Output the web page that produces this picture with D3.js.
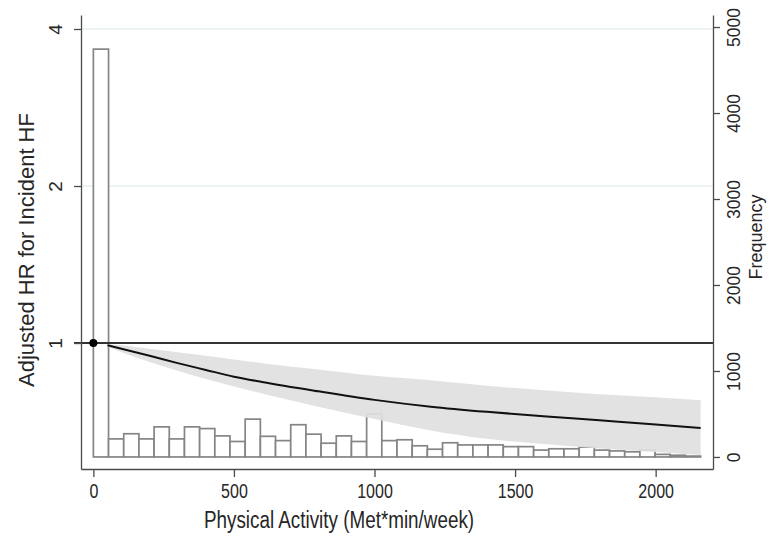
<!DOCTYPE html>
<html>
<head>
<meta charset="utf-8">
<script src="https://cdn.jsdelivr.net/npm/d3@7/dist/d3.min.js"></script>
<style>
  html, body { margin: 0; padding: 0; background: #fff; }
  svg { display: block; font-family: "Liberation Sans", Arial, sans-serif; }
</style>
</head>
<body>
<svg id="chart" width="771" height="540"></svg>
<script>
// ---- data ----
const binWidth = 54;               // Met*min/week per histogram bin
const binFrequencies = [4743,210,270,210,350,210,350,330,245,180,
                        440,240,190,375,265,160,245,180,500,190,
                        200,130,90,165,140,140,140,120,120,80,
                        95,95,115,80,70,60,80,30,20,10];
const activity = [50,100,200,300,400,500,600,800,1000,1200,1400,1600,1800,2000,2160];
const hazardRatio = [0.99,0.975,0.945,0.915,0.888,0.862,0.842,0.808,0.778,0.755,0.738,0.724,0.711,0.698,0.687];
const ciUpper = [0.995,0.99,0.975,0.96,0.945,0.93,0.915,0.89,0.865,0.848,0.828,0.812,0.798,0.787,0.777];
const ciLower = [0.985,0.96,0.92,0.885,0.853,0.825,0.80,0.755,0.715,0.68,0.655,0.64,0.628,0.618,0.61];
const referencePoint = [0, 1];
const xTicks = [0, 500, 1000, 1500, 2000];
const hrTicks = [1, 2, 4];
const freqTicks = [0, 1000, 2000, 3000, 4000, 5000];

// ---- layout ----
const svg = d3.select("#chart");
const L = 81, R = 713, T = 15, B = 469;

const x = d3.scaleLinear().domain([-44, 2204]).range([L, R]);
const yHR = d3.scaleLog().domain([0.5734, 4.255]).range([B, T]);
const yF = d3.scaleLinear().domain([-140, 5140]).range([B, T]);

// gridlines
svg.append("g").selectAll("line").data(hrTicks.filter(d => d !== 1)).join("line")
  .attr("x1", L).attr("x2", R)
  .attr("y1", d => yHR(d)).attr("y2", d => yHR(d))
  .attr("stroke", "#e6eff0").attr("stroke-width", 1.5);

// histogram
const bins = binFrequencies.map((f, i) => ({x0: i * binWidth, x1: (i + 1) * binWidth, f}));
svg.append("g").selectAll("rect").data(bins).join("rect")
  .attr("x", d => x(d.x0)).attr("width", d => x(d.x1) - x(d.x0))
  .attr("y", d => yF(d.f)).attr("height", d => yF(0) - yF(d.f))
  .attr("fill", "#fff").attr("stroke", "#858585").attr("stroke-width", 1.7);

// CI band
const band = activity.map((a, i) => ({a, lo: ciLower[i], hi: ciUpper[i]}));
svg.append("path").datum(band)
  .attr("d", d3.area().x(d => x(d.a)).y0(d => yHR(d.lo)).y1(d => yHR(d.hi)).curve(d3.curveMonotoneX))
  .attr("fill", "#e0e0e0").attr("fill-opacity", 0.92);

// reference line at HR = 1
svg.append("line")
  .attr("x1", L - 7).attr("x2", R)
  .attr("y1", yHR(1)).attr("y2", yHR(1))
  .attr("stroke", "#333").attr("stroke-width", 2);

// spline curve
const curve = activity.map((a, i) => ({a, hr: hazardRatio[i]}));
svg.append("path").datum(curve)
  .attr("d", d3.line().x(d => x(d.a)).y(d => yHR(d.hr)).curve(d3.curveMonotoneX))
  .attr("fill", "none").attr("stroke", "#111").attr("stroke-width", 2);

// reference point
svg.append("circle")
  .attr("cx", x(referencePoint[0])).attr("cy", yHR(referencePoint[1])).attr("r", 4)
  .attr("fill", "#000");

// ---- axes ----
const axisColor = "#4a4a4a";
const textColor = "#262626";
function style(g) {
  g.selectAll(".domain").attr("stroke", axisColor).attr("stroke-width", 1.3);
  g.selectAll(".tick line").attr("stroke", axisColor).attr("stroke-width", 1.3);
  g.selectAll("text").attr("fill", textColor).attr("font-family", "'Liberation Sans', Arial, sans-serif");
}

const gx = svg.append("g").attr("transform", `translate(0,${B})`)
  .call(d3.axisBottom(x).tickValues(xTicks).tickFormat(d3.format("d")).tickSize(8).tickSizeOuter(0));
style(gx);
gx.selectAll("text").attr("y", 29).attr("dy", 0).attr("font-size", 20)
  .attr("transform", "scale(0.8,1)");

const gl = svg.append("g").attr("transform", `translate(${L},0)`)
  .call(d3.axisLeft(yHR).tickValues(hrTicks).tickFormat(d3.format("d")).tickSize(7).tickSizeOuter(0));
style(gl);
gl.selectAll("text").attr("x", 0).attr("y", -19).attr("dy", 0)
  .attr("text-anchor", "middle").attr("font-size", 19)
  .attr("transform", "rotate(-90)");

const gr = svg.append("g").attr("transform", `translate(${R},0)`)
  .call(d3.axisRight(yF).tickValues(freqTicks).tickFormat(d3.format("d")).tickSize(7).tickSizeOuter(0));
style(gr);
gr.selectAll("text").attr("x", 0).attr("y", 27).attr("dy", 0)
  .attr("text-anchor", "middle").attr("font-size", 17.5)
  .attr("transform", "rotate(-90)");

// titles
svg.append("text").attr("transform", "translate(34,250) rotate(-90)")
  .attr("text-anchor", "middle").attr("font-size", 22).attr("fill", textColor)
  .text("Adjusted HR for Incident HF");
svg.append("text").attr("transform", "translate(762,237) rotate(-90)")
  .attr("text-anchor", "middle").attr("font-size", 18).attr("fill", textColor)
  .text("Frequency");
svg.append("text").attr("transform", "translate(339,528) scale(0.82,1)")
  .attr("text-anchor", "middle").attr("font-size", 23).attr("fill", textColor)
  .text("Physical Activity (Met*min/week)");
</script>
</body>
</html>
